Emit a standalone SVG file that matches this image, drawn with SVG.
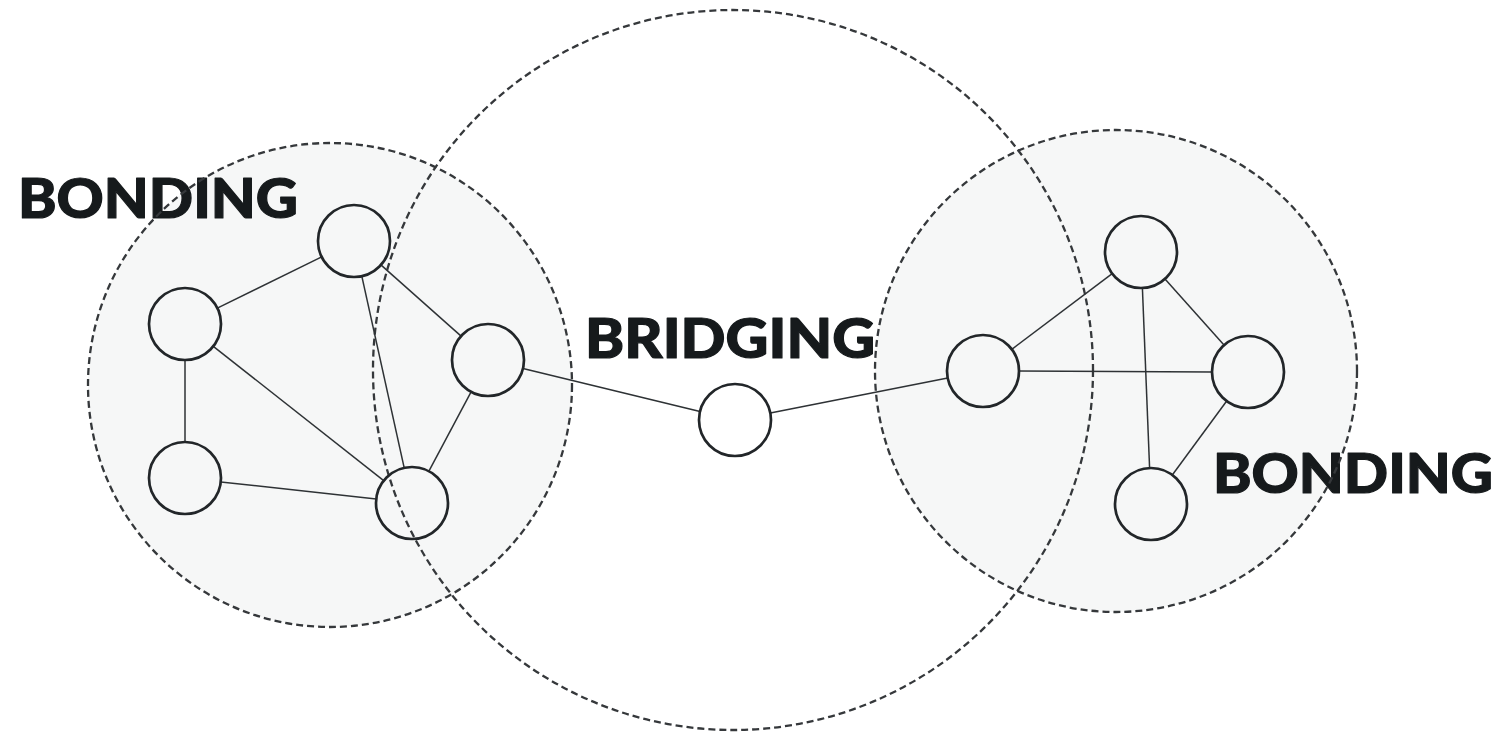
<svg xmlns="http://www.w3.org/2000/svg" width="1505" height="733" viewBox="0 0 1505 733">
<style>
.zone{fill:#f6f7f7;stroke:none}
.ring{fill:none;stroke:#35383b;stroke-width:2.3;stroke-dasharray:7 4}
.node{fill:none;stroke:#222629;stroke-width:2.7}
.edge{stroke:#2e3235;stroke-width:1.5;fill:none}
.lbl{font-family:Lato,"Liberation Sans",sans-serif;font-weight:900;font-size:55px;fill:#161a1c;stroke:#161a1c;stroke-width:1.2;stroke-linejoin:round}
</style>
<rect width="1505" height="733" fill="#ffffff"/>
<g id="zones-fill">
<circle class="zone" cx="330" cy="385" r="242"/>
<circle class="zone" cx="1116" cy="371" r="241"/>
</g>
<g id="labels">
<text class="lbl" x="18" y="218" textLength="280" lengthAdjust="spacingAndGlyphs">BONDING</text>
<text class="lbl" x="585" y="358" textLength="290" lengthAdjust="spacingAndGlyphs">BRIDGING</text>
<text class="lbl" x="1213" y="493" textLength="280" lengthAdjust="spacingAndGlyphs">BONDING</text>
</g>
<g id="zone-left"><circle class="ring" cx="330" cy="385" r="242"/></g>
<g id="zone-bridge"><circle class="ring" cx="733" cy="370" r="360"/></g>
<g id="zone-right"><circle class="ring" cx="1116" cy="371" r="241"/></g>
<g id="connectors">
<line class="edge" x1="217.3" y1="308.1" x2="321.7" y2="256.9"/>
<line class="edge" x1="361.8" y1="276.2" x2="404.2" y2="467.8"/>
<line class="edge" x1="380.9" y1="264.9" x2="461.1" y2="336.1"/>
<line class="edge" x1="213.3" y1="346.3" x2="383.7" y2="480.7"/>
<line class="edge" x1="185" y1="360" x2="185" y2="442"/>
<line class="edge" x1="220.8" y1="481.9" x2="376.2" y2="499.1"/>
<line class="edge" x1="471.1" y1="391.8" x2="428.9" y2="471.2"/>
<line class="edge" x1="523" y1="368.5" x2="700" y2="411.5"/>
<line class="edge" x1="770.3" y1="413" x2="947.7" y2="378"/>
<line class="edge" x1="1011.8" y1="349.3" x2="1112.2" y2="273.7"/>
<line class="edge" x1="1019" y1="371.1" x2="1212" y2="371.9"/>
<line class="edge" x1="1165" y1="278.9" x2="1224" y2="345.1"/>
<line class="edge" x1="1142.4" y1="288" x2="1149.6" y2="468"/>
<line class="edge" x1="1226.7" y1="401" x2="1172.3" y2="475"/>
</g>
<g id="node-a"><circle class="node" cx="354" cy="241" r="36"/></g>
<g id="node-b"><circle class="node" cx="185" cy="324" r="36"/></g>
<g id="node-c"><circle class="node" cx="488" cy="360" r="36"/></g>
<g id="node-d"><circle class="node" cx="185" cy="478" r="36"/></g>
<g id="node-e"><circle class="node" cx="412" cy="503" r="36"/></g>
<g id="node-m"><circle class="node" cx="735" cy="420" r="36"/></g>
<g id="node-f"><circle class="node" cx="1141" cy="252" r="36"/></g>
<g id="node-g"><circle class="node" cx="983" cy="371" r="36"/></g>
<g id="node-h"><circle class="node" cx="1248" cy="372" r="36"/></g>
<g id="node-i"><circle class="node" cx="1151" cy="504" r="36"/></g>
</svg>
